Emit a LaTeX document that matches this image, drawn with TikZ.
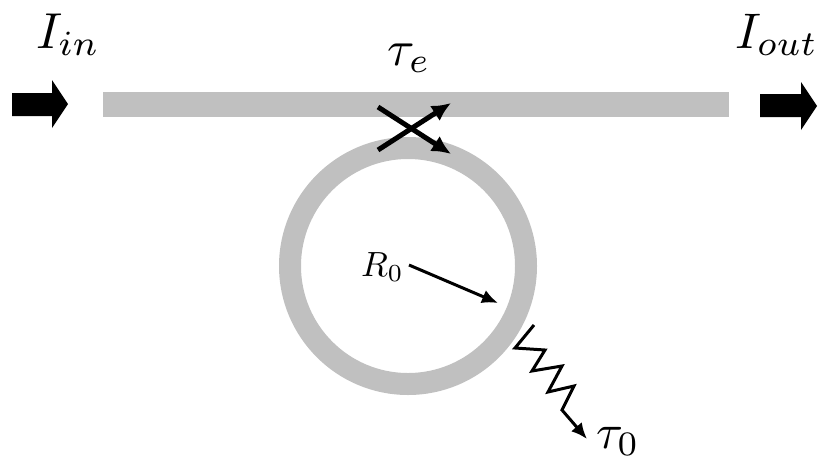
\documentclass[tikz,border=0pt]{standalone}
\usetikzlibrary{arrows.meta}
\definecolor{wgray}{RGB}{192,192,192}
\tikzset{
  guide/.style={wgray, line width=25pt},
  ringst/.style={wgray, line width=22pt},
  bigarrow/.style={fill=black},
  coupler/.style={line width=5pt, -{Latex[length=19pt,width=18pt]}},
  thin/.style={line width=3pt, -{Latex[length=16pt,width=14pt]}},
  lbl/.style={inner sep=0pt, anchor=base west},
}
\begin{document}
\begin{tikzpicture}[x=1pt,y=-1pt]
\useasboundingbox (0,0) rectangle (819,464);
% waveguide
\coordinate (wgL) at (103,104);
\coordinate (wgR) at (729,104);
\draw[guide] (wgL) -- (wgR);
% ring
\coordinate (rc) at (408,266);
\draw[ringst] (rc) circle[radius=118];
% input / output arrows
\fill[bigarrow] (12,93) -- (52,93) -- (52,80) -- (68,104) -- (52,128) -- (52,116) -- (12,116) -- cycle;
\fill[bigarrow] (760,94) -- (801,94) -- (801,82) -- (817,106) -- (801,130) -- (801,117) -- (760,117) -- cycle;
% labels
\node[lbl] (Iin) at (36,48) {\scalebox{5.05}{$I_{in}$}};
\node[lbl] (Iout) at (735,48) {\scalebox{5.0}{$I_{out}$}};
\node[lbl] (te) at (387,65) {\scalebox{5.0}{$\tau_e$}};
\node[lbl] (t0) at (596,448) {\scalebox{4.9}{$\tau_0$}};
\node[lbl] (R0) at (361,276) {\scalebox{3.5}{$R_0$}};
% coupler cross
\coordinate (c1s) at (378,150);
\coordinate (c1e) at (451,103);
\coordinate (c2s) at (378,107);
\coordinate (c2e) at (451,154);
\draw[coupler] (c1s) -- (c1e);
\draw[coupler] (c2s) -- (c2e);
% radius arrow
\coordinate (rs) at (409,265);
\coordinate (re) at (498,303);
\draw[thin] (rs) -- (re);
% loss zigzag
\coordinate (zs) at (534,325);
\coordinate (ze) at (587,439);
\draw[thin, line join=miter] (zs) -- (515,348) -- (545,350) -- (532,371) -- (562,366) -- (548,392) -- (574,386) -- (562,410) -- (ze);
\end{tikzpicture}
\end{document}
